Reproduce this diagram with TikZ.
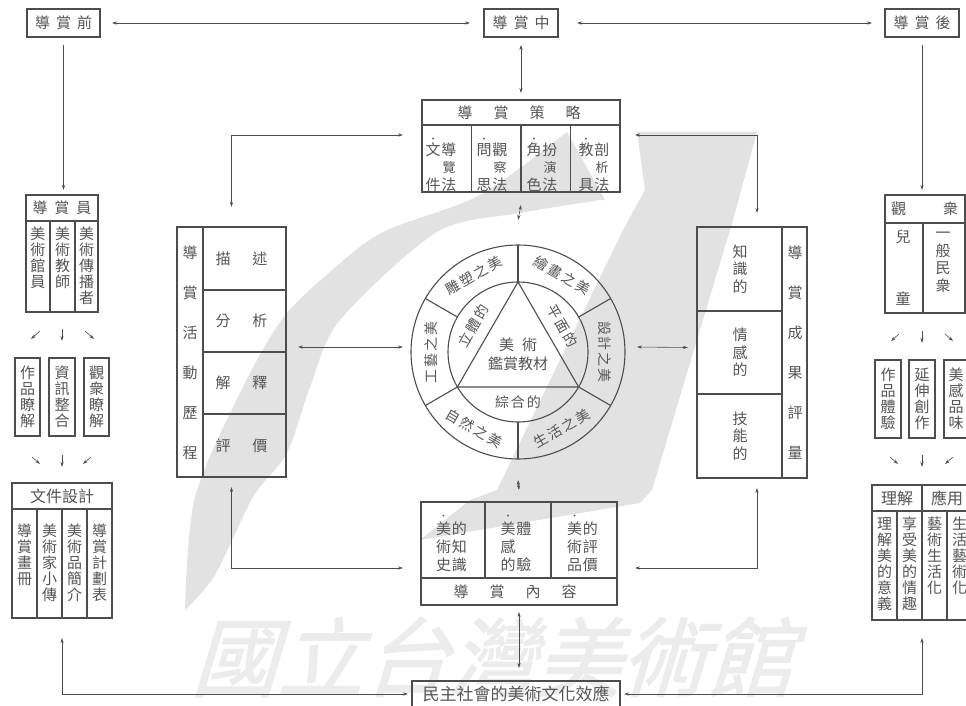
\documentclass[tikz,border=0pt]{standalone}
\usepackage{fontspec}
\setmainfont{Noto Sans CJK TC}
\newfontfamily\wmfont{Noto Sans CJK TC}[FakeSlant=0.3,FakeBold=1.5]
\usetikzlibrary{arrows.meta,calc}
\definecolor{ln}{HTML}{4D4D4D}
\definecolor{tx}{HTML}{555555}
\definecolor{wm}{HTML}{E2E2E2}
\definecolor{wmt}{HTML}{ECECEC}
\tikzset{
 box/.style={draw=ln, line width=1.1pt, inner sep=0pt, outer sep=0pt},
 lab/.style={text=tx, inner sep=0pt, align=center, font=\fontsize{15}{16}\selectfont},
 conn/.style={draw=ln, line width=0.6pt},
 tip/.style={-{Stealth[length=5pt,width=3.2pt]}},
 tips/.style={{Stealth[length=5pt,width=3.2pt]}-{Stealth[length=5pt,width=3.2pt]}},
 rule/.style={draw=ln, line width=1.1pt},
 ring/.style={text=tx, inner sep=0pt, font=\fontsize{14}{14}\selectfont},
}
\begin{document}
\begin{tikzpicture}[x=1pt,y=-1pt]
\useasboundingbox (0,0) rectangle (966,706);
\clip (0,0) rectangle (966,706);
\fill[white] (0,0) rectangle (966,706);
% watermark swoosh
\fill[wm] plot[smooth] coordinates {(185,610) (195,497) (243,387) (283,318) (330,272) (383,232) (480,195) (567,132)} -- (605,200) -- plot[smooth] coordinates {(600,200) (520,213) (437,232) (340,320) (310,387) (287,453) (253,497) (215,575) (185,610)} -- cycle;
\fill[wm] (637,132) -- (757,132) -- (733,220) -- (690,363) -- (652,490) -- (640,503) -- (420,540) -- (470,500) -- (497,490) -- (623,230) -- (645,190) -- cycle;
\node[text=wmt, inner sep=0pt, font=\wmfont\fontsize{86}{86}\selectfont] (wmtext) at (492,657) {國立台灣美術館};

% top row
\node[box,lab,minimum width=73pt,minimum height=28pt] (pre) at (63.5,23) {導\hspace{6pt}賞\hspace{6pt}前};
\node[box,lab,minimum width=74pt,minimum height=28pt] (mid) at (521,23) {導\hspace{6pt}賞\hspace{6pt}中};
\node[box,lab,minimum width=74pt,minimum height=28pt] (post) at (922,23) {導\hspace{6pt}賞\hspace{6pt}後};

% left column
\node[box,minimum width=72pt,minimum height=117pt] (guide) at (62,253.5) {};
\draw[rule] (26,221) -- (98,221) (50,221) -- (50,312) (75,221) -- (75,312);
\node[lab] (guideh) at (62,208) {導\hspace{7pt}賞\hspace{7pt}員};
\node[lab,anchor=north] (g1) at (38,227) {美\\術\\館\\員};
\node[lab,anchor=north] (g2) at (62.5,227) {美\\術\\教\\師};
\node[lab,anchor=north] (g3) at (86.5,227) {美\\術\\傳\\播\\者};
\draw[conn,tip] (40,331) -- (31,339);
\draw[conn,tip] (62,329) -- (62,341);
\draw[conn,tip] (85,331) -- (94,339);
\node[box,lab,minimum width=25pt,minimum height=78pt] (k1) at (27.5,397) {作\\品\\瞭\\解};
\node[box,lab,minimum width=26pt,minimum height=78pt] (k2) at (62,397) {資\\訊\\整\\合};
\node[box,lab,minimum width=25pt,minimum height=78pt] (k3) at (96.5,397) {觀\\衆\\瞭\\解};
\draw[conn,tip] (32,457) -- (40,464);
\draw[conn,tip] (62,455) -- (62,467);
\draw[conn,tip] (91,457) -- (83,464);
\node[box,minimum width=100pt,minimum height=135pt] (docs) at (62,550.5) {};
\draw[rule] (12,509) -- (112,509) (37,509) -- (37,618) (62,509) -- (62,618) (87,509) -- (87,618);
\node[lab,font=\fontsize{16}{16}\selectfont] (docsh) at (62,496) {文件設計};
\node[lab,anchor=north] (d1) at (24.5,524) {導\\賞\\畫\\冊};
\node[lab,anchor=north] (d2) at (49.5,524) {美\\術\\家\\小\\傳};
\node[lab,anchor=north] (d3) at (74.5,524) {美\\術\\品\\簡\\介};
\node[lab,anchor=north] (d4) at (99.5,524) {導\\賞\\計\\劃\\表};

% right column
\node[box,minimum width=80pt,minimum height=118pt] (aud) at (925,254) {};
\draw[rule] (885,223) -- (965,223) (923,223) -- (923,313);
\node[lab] (audh) at (924.5,209) {觀\hspace{37pt}衆};
\node[lab,font=\fontsize{15}{62}\selectfont,anchor=north] (a1) at (903,230) {兒\\童};
\node[lab,font=\fontsize{15}{17.5}\selectfont,anchor=north] (a2) at (943,232) {一\\般\\民\\衆};
\draw[conn,tip] (899,334) -- (891,341);
\draw[conn,tip] (922,331) -- (922,343);
\draw[conn,tip] (945,334) -- (953,341);
\node[box,lab,minimum width=26pt,minimum height=78pt] (r1) at (888,399) {作\\品\\體\\驗};
\node[box,lab,minimum width=26pt,minimum height=78pt] (r2) at (922,399) {延\\伸\\創\\作};
\node[box,lab,minimum width=24pt,minimum height=78pt] (r3) at (956,399) {美\\感\\品\\味};
\draw[conn,tip] (890,457) -- (898,464);
\draw[conn,tip] (922,455) -- (922,467);
\draw[conn,tip] (953,457) -- (945,464);
\node[box,minimum width=100pt,minimum height=135pt] (und) at (922,552.5) {};
\draw[rule] (872,511) -- (972,511) (897,511) -- (897,620) (922,485) -- (922,620) (947,511) -- (947,620);
\node[lab,font=\fontsize{16}{16}\selectfont] (undh1) at (897,498) {理解};
\node[lab,font=\fontsize{16}{16}\selectfont] (undh2) at (947,498) {應用};
\node[lab,anchor=north] (u1) at (884.5,517) {理\\解\\美\\的\\意\\義};
\node[lab,anchor=north] (u2) at (909.5,517) {享\\受\\美\\的\\情\\趣};
\node[lab,anchor=north] (u3) at (934.5,517) {藝\\術\\生\\活\\化};
\node[lab,anchor=north] (u4) at (959.5,517) {生\\活\\藝\\術\\化};

% strategy box
\node[box,minimum width=198pt,minimum height=92pt] (strat) at (521,146) {};
\draw[rule] (422,125) -- (620,125) (471.5,125) -- (471.5,192) (521,125) -- (521,192) (570.5,125) -- (570.5,192);
\node[lab] (strath) at (519,113) {導\hspace{21pt}賞\hspace{21pt}策\hspace{21pt}略};
\node[lab,anchor=north,font=\fontsize{15}{17.5}\selectfont] (s1) at (441,130) {\begin{tabular}{@{}c@{\hspace{1pt}}c@{}}{\small•}&\\[-5pt]文&導\\&{\fontsize{13}{13}\selectfont 覽}\\件&法\end{tabular}};
\node[lab,anchor=north,font=\fontsize{15}{17.5}\selectfont] (s2) at (492,130) {\begin{tabular}{@{}c@{\hspace{1pt}}c@{}}{\small•}&\\[-5pt]問&觀\\&{\fontsize{13}{13}\selectfont 察}\\思&法\end{tabular}};
\node[lab,anchor=north,font=\fontsize{15}{17.5}\selectfont] (s3) at (542,130) {\begin{tabular}{@{}c@{\hspace{1pt}}c@{}}{\small•}&\\[-5pt]角&扮\\&{\fontsize{13}{13}\selectfont 演}\\色&法\end{tabular}};
\node[lab,anchor=north,font=\fontsize{15}{17.5}\selectfont] (s4) at (594,130) {\begin{tabular}{@{}c@{\hspace{1pt}}c@{}}{\small•}&\\[-5pt]教&剖\\&{\fontsize{13}{13}\selectfont 析}\\具&法\end{tabular}};

% activity box
\node[box,minimum width=109pt,minimum height=250pt] (act) at (231.5,352) {};
\draw[rule] (203,227) -- (203,477) (203,290) -- (286,290) (203,352) -- (286,352) (203,414) -- (286,414);
\node[lab,font=\fontsize{15}{40}\selectfont] (acth) at (190,353) {導\\賞\\活\\動\\歷\\程};
\node[lab] (ac1) at (241.5,259) {描\hspace{22pt}述};
\node[lab] (ac2) at (241.5,321) {分\hspace{22pt}析};
\node[lab] (ac3) at (241.5,383) {解\hspace{22pt}釋};
\node[lab] (ac4) at (241.5,445.5) {評\hspace{22pt}價};

% evaluation box
\node[box,minimum width=110pt,minimum height=251pt] (eval) at (752,352.5) {};
\draw[rule] (782,227) -- (782,478) (697,311) -- (782,311) (697,394) -- (782,394);
\node[lab,font=\fontsize{15}{17.5}\selectfont] (ev1) at (740,269) {知\\識\\的};
\node[lab,font=\fontsize{15}{17.5}\selectfont] (ev2) at (740,352.5) {情\\感\\的};
\node[lab,font=\fontsize{15}{17.5}\selectfont] (ev3) at (740,436) {技\\能\\的};
\node[lab,font=\fontsize{15}{40}\selectfont] (evh) at (795,353) {導\\賞\\成\\果\\評\\量};

% content box
\node[box,minimum width=196pt,minimum height=103pt] (cont) at (519,553.5) {};
\draw[rule] (421,578) -- (617,578) (485,502) -- (485,578) (551,502) -- (551,578);
\node[lab] (conth) at (515,592) {導\hspace{21pt}賞\hspace{21pt}內\hspace{21pt}容};
\node[lab,anchor=north,font=\fontsize{15}{17.5}\selectfont] (c1) at (451.5,507) {\begin{tabular}{@{}c@{\hspace{1pt}}c@{}}{\small•}&\\[-3pt]美&的\\術&知\\史&識\end{tabular}};
\node[lab,anchor=north,font=\fontsize{15}{17.5}\selectfont] (c2) at (516,507) {\begin{tabular}{@{}c@{\hspace{1pt}}c@{}}{\small•}&\\[-3pt]美&體\\感&\\的&驗\end{tabular}};
\node[lab,anchor=north,font=\fontsize{15}{17.5}\selectfont] (c3) at (582.5,507) {\begin{tabular}{@{}c@{\hspace{1pt}}c@{}}{\small•}&\\[-3pt]美&的\\術&評\\品&價\end{tabular}};

% bottom box
\node[box,lab,font=\fontsize{17}{17}\selectfont,minimum width=208pt,minimum height=26pt] (demo) at (516,694) {民主社會的美術文化效應};

% circle
\node[box,circle,minimum size=214pt] (circ) at (518,352) {};
\node[box,circle,minimum size=140pt] (icirc) at (518,352) {};
\begin{scope}[shift={(518,352)},y=1pt]
\draw[rule] (90:70) -- (210:70) -- (330:70) -- cycle;
\foreach \a in {30,90,150,210,270,330} \draw[rule] (\a:70) -- (\a:107);
\node[ring,rotate=30] (o1) at (120:88) {雕\hspace{2pt}塑\hspace{2pt}之\hspace{2pt}美};
\node[ring,rotate=-30] (o2) at (60:88) {繪\hspace{2pt}畫\hspace{2pt}之\hspace{2pt}美};
\node[ring,rotate=-90] (o3) at (0:87) {設\hspace{2pt}計\hspace{2pt}之\hspace{2pt}美};
\node[ring,rotate=30] (o4) at (300:88) {生\hspace{2pt}活\hspace{2pt}之\hspace{2pt}美};
\node[ring,rotate=-30] (o5) at (240:88) {自\hspace{2pt}然\hspace{2pt}之\hspace{2pt}美};
\node[ring,rotate=90] (o6) at (180:87) {工\hspace{2pt}藝\hspace{2pt}之\hspace{2pt}美};
\node[ring,rotate=60] (i1) at (150:52) {立\hspace{2pt}體\hspace{2pt}的};
\node[ring,rotate=-60] (i2) at (30:52) {平\hspace{2pt}面\hspace{2pt}的};
\node[ring] (i3) at (270:50) {綜\hspace{2pt}合\hspace{2pt}的};
\node[ring,font=\fontsize{15}{15}\selectfont] (m1) at (0,7) {美\hspace{8pt}術};
\node[ring,font=\fontsize{15}{15}\selectfont] (m2) at (0,-12) {鑑賞教材};
\end{scope}

% connectors
\draw[conn,tips] ([xshift=12pt]pre.east) -- ([xshift=-14pt]mid.west);
\draw[conn,tips] ([xshift=19pt]mid.east) -- ([xshift=-13pt]post.west);
\draw[conn,tip] ([yshift=-8pt]pre.south) -- ([yshift=5pt]pre.south |- guide.north);
\draw[conn,tips] ([yshift=-8pt]mid.south) -- ([yshift=7pt]mid.south |- strat.north);
\draw[conn,tip] ([yshift=-8pt]post.south) -- ([yshift=5pt]post.south |- aud.north);
\draw[conn,tips] ([xshift=-19pt,yshift=11pt]strat.west) -| ([yshift=20pt]act.north);
\draw[conn,tips] ([xshift=15pt,yshift=11pt]strat.east) -| ([xshift=5pt,yshift=14pt]eval.north);
\draw[conn,tips] ([xshift=12pt,yshift=5pt]act.east) -- ([xshift=-8pt,yshift=5pt]circ.west);
\draw[conn,tips] ([xshift=12pt,yshift=5pt]circ.east) -- ([xshift=-9pt,yshift=5pt]eval.west);
\draw[conn,tips] ([yshift=-13pt]strat.south) -- ([yshift=25pt]circ.north);
\draw[conn,tips] ([yshift=-21pt]circ.south) -- ([yshift=12pt]cont.north);
\draw[conn,tips] ([yshift=-7pt]cont.south) -- ([yshift=13pt]cont.south |- demo.north);
\draw[conn,tips] ([yshift=-10pt]act.south) |- ([xshift=-18pt,yshift=-14.5pt]cont.west);
\draw[conn,tips] ([xshift=5pt,yshift=-10pt]eval.south) |- ([xshift=18pt,yshift=-14.5pt]cont.east);
\draw[conn,tips] ([xshift=-4pt]demo.west) -| ([yshift=-20pt]docs.south);
\draw[conn,tips] ([xshift=4pt]demo.east) -| ([yshift=-18pt]und.south);
\end{tikzpicture}
\end{document}
